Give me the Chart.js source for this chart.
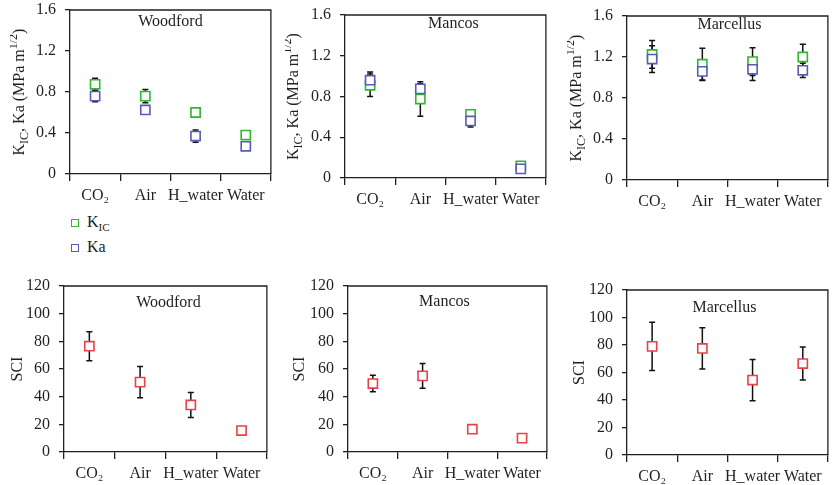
<!DOCTYPE html>
<html><head><meta charset="utf-8">
<script src="https://cdn.jsdelivr.net/npm/chart.js@4"></script>
<style>
body{margin:0;width:833px;height:485px;overflow:hidden;background:#fff;position:relative;font-family:'Liberation Serif','DejaVu Serif',serif;color:#231f20}
canvas{position:absolute}
.lg{position:absolute;font-size:16px;line-height:16px;white-space:nowrap}
.lg span.sq{display:inline-block;width:6px;height:6px;border:1.5px solid;background:#fff;margin-right:8px;vertical-align:middle}
.lg sub{font-size:11px;vertical-align:-4px;line-height:0}
</style></head><body>
<div class="lg" style="left:71px;top:214px"><span class="sq" style="border-color:#2eb82e"></span>K<sub>IC</sub></div>
<div class="lg" style="left:71px;top:239px"><span class="sq" style="border-color:#5a5ab8"></span>Ka</div>
<script>
const categories = ['CO\u2082', 'Air', 'H_water', 'Water'];
const kTicks = [0, 0.4, 0.8, 1.2, 1.6];
const sciTicks = [0, 20, 40, 60, 80, 100, 120];

const woodfordKIC = [0.875, 0.76, 0.60, 0.38];
const woodfordKICErr = [0.06, 0.065, 0.045, 0];
const woodfordKa = [0.76, 0.625, 0.37, 0.27];
const woodfordKaErr = [0.055, 0, 0.06, 0];

const mancosKIC = [0.91, 0.775, 0.625, 0.12];
const mancosKICErr = [0.11, 0.17, 0.035, 0];
const mancosKa = [0.96, 0.875, 0.56, 0.09];
const mancosKaErr = [0.08, 0.05, 0.06, 0];

const marcellusKIC = [1.225, 1.13, 1.155, 1.20];
const marcellusKICErr = [0.135, 0.155, 0.135, 0.125];
const marcellusKa = [1.18, 1.06, 1.08, 1.07];
const marcellusKaErr = [0.13, 0.09, 0.11, 0.07];

const woodfordSCI = [76.5, 50.5, 34, 15.5];
const woodfordSCIErr = [10.5, 11.3, 9, 0];
const mancosSCI = [49.5, 55, 16.5, 10];
const mancosSCIErr = [6, 9, 0, 3];
const marcellusSCI = [79, 77.5, 54.5, 66.5];
const marcellusSCIErr = [17.5, 15, 15, 12];

const GREEN = '#2eb82e', BLUE = '#5a5ab8', RED = '#e8404a', INK = '#231f20';
const FONT = "'Liberation Serif','DejaVu Serif',serif";

const YW = 60, PT = 20, XH = 40;

const errorBars = {
  id: 'errorBars',
  beforeDatasetsDraw(chart) {
    const ctx = chart.ctx, ys = chart.scales.y;
    ctx.save();
    ctx.strokeStyle = '#111'; ctx.lineWidth = 1.5;
    chart.data.datasets.forEach((ds, di) => {
      const meta = chart.getDatasetMeta(di);
      (ds.errors || []).forEach((e, i) => {
        if (!e) return;
        const x = meta.data[i].x;
        const y1 = ys.getPixelForValue(ds.data[i] + e), y2 = ys.getPixelForValue(ds.data[i] - e);
        ctx.beginPath();
        ctx.moveTo(x, y1); ctx.lineTo(x, y2);
        ctx.moveTo(x - 3, y1); ctx.lineTo(x + 3, y1);
        ctx.moveTo(x - 3, y2); ctx.lineTo(x + 3, y2);
        ctx.stroke();
      });
    });
    ctx.restore();
  }
};

const frame = {
  id: 'frame',
  afterDraw(chart, args, opts) {
    const ctx = chart.ctx, a = chart.chartArea;
    ctx.save();
    ctx.strokeStyle = INK; ctx.lineWidth = 1.3;
    ctx.beginPath();
    ctx.moveTo(a.left, a.top); ctx.lineTo(a.right, a.top); ctx.lineTo(a.right, a.bottom);
    ctx.stroke();
    ctx.fillStyle = INK;
    ctx.font = '16px ' + FONT;
    ctx.textAlign = 'center'; ctx.textBaseline = 'middle';
    ctx.fillText(opts.title, (a.left + a.right) / 2 + (opts.titleDx || 0), a.top + opts.titleDy);
    ctx.translate(opts.ytx, (a.top + a.bottom) / 2);
    ctx.rotate(-Math.PI / 2);
    const parts = opts.yparts;
    let total = 0;
    parts.forEach(p => { ctx.font = (p.s ? '12px ' : '16px ') + FONT; p.w = ctx.measureText(p.t).width; total += p.w; });
    let x = -total / 2;
    ctx.textAlign = 'left'; ctx.textBaseline = 'middle';
    parts.forEach(p => {
      ctx.font = (p.s ? '12px ' : '16px ') + FONT;
      ctx.fillText(p.t, x, p.s === 'sub' ? 5 : p.s === 'sup' ? -6 : 0);
      x += p.w;
    });
    ctx.restore();
  }
};

const kParts = [{t: 'K'}, {t: 'IC', s: 'sub'}, {t: ', Ka (MPa m'}, {t: '1/2', s: 'sup'}, {t: ')'}];
const sParts = [{t: 'SCI'}];

function panel(box, sets, yTicks, yparts, title, titleDy, titleX, titleDx) {
  const [L, R, T, B] = box;
  const cv = document.createElement('canvas');
  const W = (R - L) + YW + 1, H = PT + (B - T) + XH;
  cv.width = W; cv.height = H;
  cv.style.left = (L - YW) + 'px'; cv.style.top = (T - PT) + 'px';
  cv.style.width = W + 'px'; cv.style.height = H + 'px';
  document.body.appendChild(cv);
  new Chart(cv, {
    type: 'line',
    data: {
      labels: categories,
      datasets: sets.map(s => ({
        data: s.data, errors: s.err, showLine: false,
        pointStyle: 'rect', pointRadius: 6.5, pointHoverRadius: 6.5,
        pointBackgroundColor: '#fff', pointBorderColor: s.color, pointBorderWidth: 1.6,
        borderColor: s.color, order: s.order
      }))
    },
    options: {
      responsive: false, animation: false, devicePixelRatio: 1,
      layout: {padding: {left: 0, right: 1, top: PT, bottom: 0}},
      plugins: {legend: {display: false}, tooltip: {enabled: false},
        frame: {title: title, titleDy: titleDy, titleDx: titleDx, ytx: titleX - (L - YW), yparts: yparts}},
      scales: {
        x: {
          type: 'category', offset: true,
          grid: {offset: true, drawOnChartArea: false, drawTicks: true, tickLength: 7, color: INK, lineWidth: 1.3},
          border: {display: true, color: INK, width: 1.3},
          ticks: {font: {family: FONT, size: 16}, color: INK, padding: 5, autoSkip: false, maxRotation: 0},
          afterFit(s) { s.height = XH; }
        },
        y: {
          min: yTicks[0], max: yTicks[yTicks.length - 1],
          afterBuildTicks(s) { s.ticks = yTicks.map(v => ({value: v})); },
          grid: {drawOnChartArea: false, drawTicks: true, tickLength: 5, color: INK, lineWidth: 1.3},
          border: {display: true, color: INK, width: 1.3},
          ticks: {font: {family: FONT, size: 16}, color: INK, padding: 9},
          afterFit(s) { s.width = YW; }
        }
      }
    },
    plugins: [errorBars, frame]
  });
}

panel([70, 278, 10, 174], [
  {data: woodfordKIC, err: woodfordKICErr, color: GREEN, order: 2},
  {data: woodfordKa, err: woodfordKaErr, color: BLUE, order: 1}], kTicks, kParts, 'Woodford', 12, 20, 0);
panel([345, 553, 15, 178], [
  {data: mancosKIC, err: mancosKICErr, color: GREEN, order: 2},
  {data: mancosKa, err: mancosKaErr, color: BLUE, order: 1}], kTicks, kParts, 'Mancos', 9, 294, 8);
panel([627, 835, 16, 180], [
  {data: marcellusKIC, err: marcellusKICErr, color: GREEN, order: 2},
  {data: marcellusKa, err: marcellusKaErr, color: BLUE, order: 1}], kTicks, kParts, 'Marcellus', 9, 577, 2);
panel([64, 274, 286, 452], [
  {data: woodfordSCI, err: woodfordSCIErr, color: RED, order: 1}], sciTicks, sParts, 'Woodford', 17, 18, 3);
panel([348, 554, 286, 452], [
  {data: mancosSCI, err: mancosSCIErr, color: RED, order: 1}], sciTicks, sParts, 'Mancos', 16, 300, -3);
panel([627, 835, 290, 455], [
  {data: marcellusSCI, err: marcellusSCIErr, color: RED, order: 1}], sciTicks, sParts, 'Marcellus', 18, 580, -3);
</script>
</body></html>
